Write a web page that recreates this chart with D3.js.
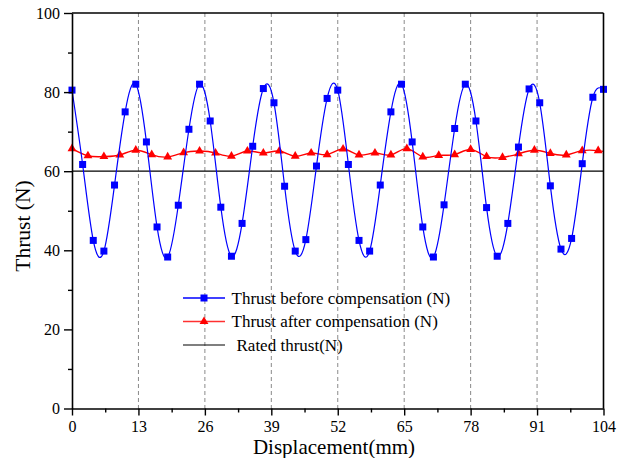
<!DOCTYPE html>
<html>
<head>
<meta charset="utf-8">
<script src="https://cdn.jsdelivr.net/npm/d3@7"></script>
<style>
  html, body { margin: 0; padding: 0; background: #fff; }
  svg { display: block; }
  text { font-family: "Liberation Serif", "Times New Roman", serif; fill: #000; }
</style>
</head>
<body>
<svg id="chart" width="636" height="458"></svg>
<script>
// ---- data ----
const blueStep = 2.08;
const blueValues = [80.5, 61.7, 42.5, 39.8, 56.5, 75.0, 82.0, 67.4, 45.9, 38.3,
  51.4, 70.6, 82.0, 72.7, 50.9, 38.5, 46.8, 66.3, 80.9, 77.3,
  56.2, 39.8, 42.7, 61.3, 78.4, 80.5, 61.7, 42.5, 39.8, 56.5,
  75.0, 82.0, 67.4, 45.9, 38.3, 51.5, 70.8, 82.0, 72.7, 50.8,
  38.5, 46.8, 66.1, 80.8, 77.3, 56.3, 40.3, 43.0, 61.9, 78.7, 80.7];
const redStep = 3.12;
const redValues = [65.7, 63.9, 63.7, 64.1, 65.3, 64.2, 63.6, 64.7, 65.1, 64.6,
  63.8, 65.1, 64.6, 65.1, 63.8, 64.6, 64.2, 65.6, 64.1, 64.6,
  64.1, 65.7, 63.6, 64.0, 64.2, 65.5, 63.7, 63.5, 64.4, 65.3,
  64.5, 64.1, 65.2, 65.2];
const redEnd = [104, 65.0];
const ratedThrust = 60;
const xTicks = [0, 13, 26, 39, 52, 65, 78, 91, 104];
const xMinor = [6.5, 19.5, 32.5, 45.5, 58.5, 71.5, 84.5, 97.5];
const yTicks = [0, 20, 40, 60, 80, 100];
const yMinor = [10, 30, 50, 70, 90];
const legendLabels = ["Thrust before compensation (N)", "Thrust after compensation (N)", "Rated thrust(N)"];
const xLabel = "Displacement(mm)";
const yLabel = "Thrust (N)";

// ---- layout ----
const FONT = '"Liberation Serif", "Times New Roman", serif';
const svg = d3.select("#chart");
const L = 72, R = 603.5, T = 13, B = 408.5;
const x = d3.scaleLinear().domain([0, 104]).range([L, R]);
const y = d3.scaleLinear().domain([0, 100]).range([B, T]);

const blue = blueValues.map((v, i) => [i * blueStep, v]);
const redMarks = redValues.map((v, i) => [i * redStep, v]);
const redLine = redMarks.concat([redEnd]);

// grid lines
svg.append("g").selectAll("line").data(xTicks.slice(1, -1)).join("line")
  .attr("x1", d => x(d)).attr("x2", d => x(d))
  .attr("y1", T).attr("y2", B)
  .attr("stroke", "#8a8a8a").attr("stroke-width", 1)
  .attr("stroke-dasharray", "4,3");

// rated thrust line
svg.append("line")
  .attr("x1", x(0)).attr("x2", x(104))
  .attr("y1", y(ratedThrust)).attr("y2", y(ratedThrust))
  .attr("stroke", "#000").attr("stroke-width", 1.2);

const lineGen = d3.line().x(d => x(d[0])).y(d => y(d[1])).curve(d3.curveNatural);

// red series
svg.append("path").datum(redLine)
  .attr("d", lineGen).attr("fill", "none")
  .attr("stroke", "#ff0000").attr("stroke-width", 1.4);
const tri = d3.symbol().type(d3.symbolTriangle).size(34);
svg.append("g").selectAll("path").data(redMarks).join("path")
  .attr("d", tri)
  .attr("transform", d => `translate(${x(d[0])},${y(d[1])})`)
  .attr("fill", "#ff0000");

// blue series
svg.append("path").datum(blue)
  .attr("d", lineGen).attr("fill", "none")
  .attr("stroke", "#0000ff").attr("stroke-width", 1.2);
svg.append("g").selectAll("rect").data(blue).join("rect")
  .attr("x", d => x(d[0]) - 3.5).attr("y", d => y(d[1]) - 3.5)
  .attr("width", 7).attr("height", 7)
  .attr("fill", "#0000ff");

// frame (top/right)
svg.append("line").attr("x1", L).attr("x2", R).attr("y1", T).attr("y2", T)
  .attr("stroke", "#000").attr("stroke-width", 1.6);
svg.append("line").attr("x1", R).attr("x2", R).attr("y1", T).attr("y2", B)
  .attr("stroke", "#000").attr("stroke-width", 1.6);

// axes
function styleAxis(g) {
  g.attr("font-family", null);
  g.select(".domain").attr("stroke", "#000").attr("stroke-width", 1.6);
  g.selectAll(".tick line").attr("stroke", "#000").attr("stroke-width", 1.4);
  g.selectAll(".tick text").style("font-family", FONT)
    .style("font-size", "16px").attr("fill", "#000");
}
const gxMinor = svg.append("g").attr("transform", `translate(0,${B})`)
  .call(d3.axisBottom(x).tickValues(xMinor).tickSize(4).tickFormat(""));
gxMinor.select(".domain").remove();
gxMinor.selectAll(".tick line").attr("stroke", "#000").attr("stroke-width", 1.4);
const gyMinor = svg.append("g").attr("transform", `translate(${L},0)`)
  .call(d3.axisLeft(y).tickValues(yMinor).tickSize(4).tickFormat(""));
gyMinor.select(".domain").remove();
gyMinor.selectAll(".tick line").attr("stroke", "#000").attr("stroke-width", 1.4);

const gx = svg.append("g").attr("transform", `translate(0,${B})`)
  .call(d3.axisBottom(x).tickValues(xTicks).tickSize(7).tickPadding(5).tickSizeOuter(0).tickFormat(d3.format("d")));
styleAxis(gx);
const gy = svg.append("g").attr("transform", `translate(${L},0)`)
  .call(d3.axisLeft(y).tickValues(yTicks).tickSize(8).tickPadding(4).tickSizeOuter(0).tickFormat(d3.format("d")));
styleAxis(gy);

// axis labels
svg.append("text").attr("x", 334).attr("y", 453.5)
  .attr("text-anchor", "middle").style("font-family", FONT).style("font-size", "21px").text(xLabel);
svg.append("text").attr("transform", "translate(30,226) rotate(-90)")
  .attr("text-anchor", "middle").style("font-family", FONT).style("font-size", "21.5px").text(yLabel);

// legend
const legRows = [298, 321.5, 345];
const legColors = ["#0000ff", "#ff3030", "#000"];
legRows.forEach((ry, i) => {
  svg.append("line").attr("x1", 183).attr("x2", 225).attr("y1", ry).attr("y2", ry)
    .attr("stroke", legColors[i]).attr("stroke-width", i === 2 ? 1.1 : 1.3);
  if (i === 0) {
    svg.append("rect").attr("x", 204 - 3.5).attr("y", ry - 3.5).attr("width", 7).attr("height", 7)
      .attr("fill", "#0000ff");
  } else if (i === 1) {
    svg.append("path").attr("d", tri).attr("transform", `translate(204,${ry})`).attr("fill", "#ff0000");
  }
  svg.append("text").attr("x", i === 2 ? 236.5 : 231.5).attr("y", ry + 5.5)
    .style("font-family", FONT).style("font-size", "17px").text(legendLabels[i]);
});
</script>
</body>
</html>
